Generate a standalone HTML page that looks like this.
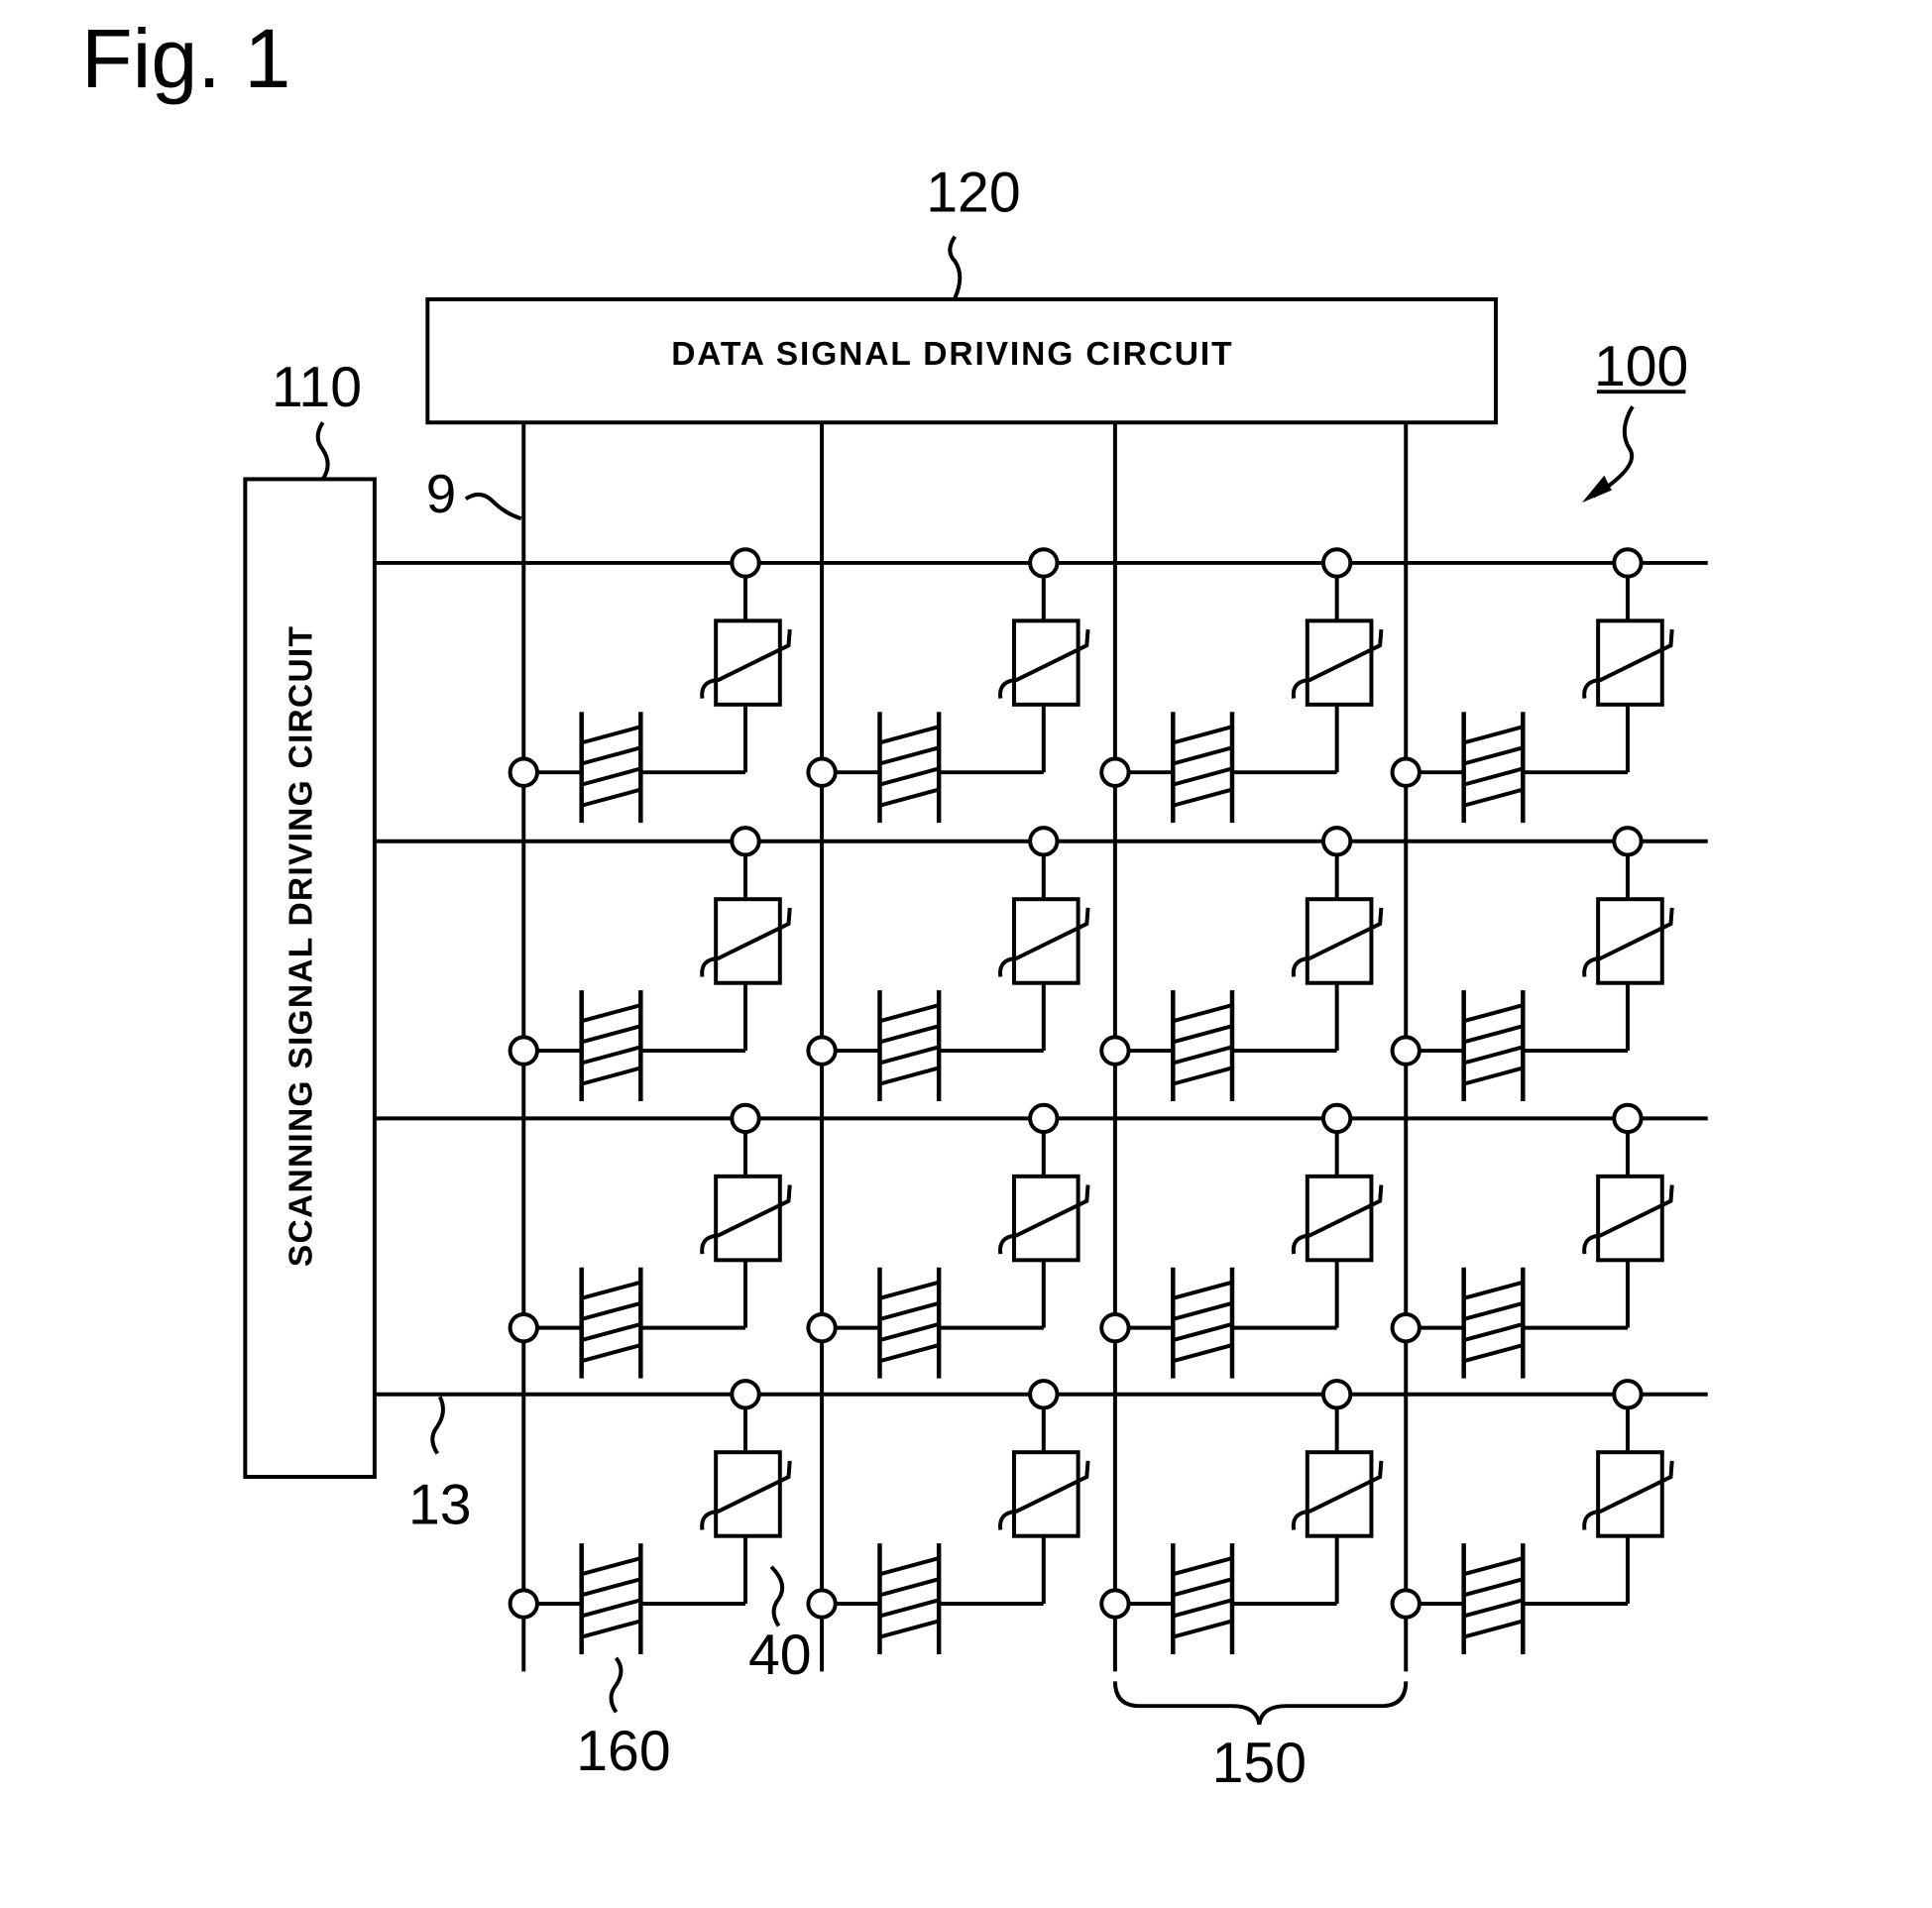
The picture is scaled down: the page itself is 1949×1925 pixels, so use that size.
<!DOCTYPE html>
<html><head><meta charset="utf-8"><style>html,body{margin:0;padding:0;background:#fff}svg{display:block}</style></head>
<body>
<svg width="1949" height="1925" viewBox="0 0 1568 1549" preserveAspectRatio="none" xmlns="http://www.w3.org/2000/svg">
<defs>
<g id="cell" stroke="#000" stroke-width="3.2" fill="none">
  <line x1="180" y1="11" x2="180" y2="47"/>
  <rect x="156" y="47" width="52" height="68" fill="#fff"/>
  <line x1="180" y1="115" x2="180" y2="170"/>
  <line x1="180" y1="170" x2="95" y2="170"/>
  <line x1="11" y1="170" x2="47" y2="170"/>
  <line x1="47" y1="121" x2="47" y2="211" stroke-width="3.6"/>
  <line x1="95" y1="121" x2="95" y2="211" stroke-width="3.6"/>
  <line x1="47" y1="146" x2="95" y2="133"/>
  <line x1="47" y1="163" x2="95" y2="150"/>
  <line x1="47" y1="180" x2="95" y2="167"/>
  <line x1="47" y1="197" x2="95" y2="184"/>
  <path d="M145,110 Q143,96 158,95 L215,67 L216,54"/>
  <circle cx="180" cy="0" r="11" fill="#fff"/>
  <circle cx="0" cy="170" r="11" fill="#fff"/>
</g>
</defs>
<g font-family="Liberation Sans, sans-serif" fill="#000">
<text x="66" y="71" font-size="68">Fig. 1</text>
<text x="790" y="172" font-size="46" text-anchor="middle">120</text>
<text x="257" y="330" font-size="46" text-anchor="middle">110</text>
<text x="1332" y="313" font-size="46" text-anchor="middle">100</text>
<text x="358" y="416" font-size="44" text-anchor="middle">9</text>
<text x="357" y="1237" font-size="46" text-anchor="middle">13</text>
<text x="633" y="1359" font-size="46" text-anchor="middle">40</text>
<text x="506" y="1437" font-size="46" text-anchor="middle">160</text>
<text x="1022" y="1447" font-size="46" text-anchor="middle">150</text>
<text x="773" y="296" font-size="27" font-weight="bold" letter-spacing="1.5" text-anchor="middle">DATA SIGNAL DRIVING CIRCUIT</text>
<text x="0" y="0" font-size="27" font-weight="bold" letter-spacing="1" text-anchor="middle" transform="translate(253,768) rotate(-90)">SCANNING SIGNAL DRIVING CIRCUIT</text>
</g>
<g stroke="#000" stroke-width="3.2" fill="none">
<rect x="347" y="243" width="867" height="100"/>
<rect x="199" y="389" width="105" height="810"/>
<line x1="1296" y1="318" x2="1368" y2="318"/>
<path d="M775,192 q-8,12 0,20 q8,12 0,30"/>
<path d="M262,343 q-8,12 0,22 q8,12 0,24"/>
<path d="M378,405 q12,-8 22,2 q10,10 23,14"/>
<path d="M355,1180 q-8,-12 0,-22 q8,-12 2,-24"/>
<path d="M632,1320 q-8,-12 0,-22 q8,-12 -6,-26"/>
<path d="M500,1390 q-8,-12 0,-22 q8,-12 0,-22"/>
<path d="M1325,330 q-12,20 -2,35 q8,14 -30,38"/>
<path d="M905,1365 q0,20 20,20 L1000,1385 q20,0 22,15 q2,-15 22,-15 L1121,1385 q20,0 20,-20"/>
<line x1="425" y1="343" x2="425" y2="1357"/>
<line x1="667" y1="343" x2="667" y2="1357"/>
<line x1="905" y1="343" x2="905" y2="1357"/>
<line x1="1141" y1="343" x2="1141" y2="1357"/>
<line x1="304" y1="457" x2="1386" y2="457"/>
<line x1="304" y1="683" x2="1386" y2="683"/>
<line x1="304" y1="908" x2="1386" y2="908"/>
<line x1="304" y1="1132" x2="1386" y2="1132"/>
</g>
<path d="M1284,408 L1302,386 L1308,398 Z" fill="#000"/>
<use href="#cell" x="425" y="457"/><use href="#cell" x="667" y="457"/><use href="#cell" x="905" y="457"/><use href="#cell" x="1141" y="457"/>
<use href="#cell" x="425" y="683"/><use href="#cell" x="667" y="683"/><use href="#cell" x="905" y="683"/><use href="#cell" x="1141" y="683"/>
<use href="#cell" x="425" y="908"/><use href="#cell" x="667" y="908"/><use href="#cell" x="905" y="908"/><use href="#cell" x="1141" y="908"/>
<use href="#cell" x="425" y="1132"/><use href="#cell" x="667" y="1132"/><use href="#cell" x="905" y="1132"/><use href="#cell" x="1141" y="1132"/>
</svg>
</body></html>
